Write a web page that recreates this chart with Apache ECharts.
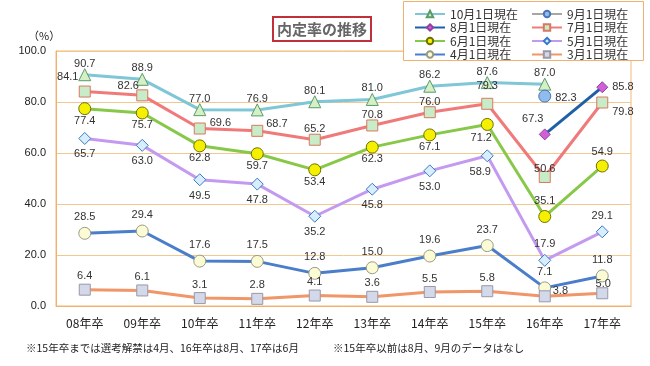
<!DOCTYPE html>
<html><head><meta charset="utf-8">
<script src="https://cdn.jsdelivr.net/npm/echarts@6/dist/echarts.min.js"></script>
<style>html,body{margin:0;padding:0;background:#fff}#c{width:650px;height:366px}</style>
</head><body><div id="c"></div>
<script>
const categories = ['08年卒','09年卒','10年卒','11年卒','12年卒','13年卒','14年卒','15年卒','16年卒','17年卒'];
const yTicks = [0, 20, 40, 60, 80, 100];
const oct1 = [90.7, 88.9, 77.0, 76.9, 80.1, 81.0, 86.2, 87.6, 87.0, null];
const sep1 = [null, null, null, null, null, null, null, null, 82.3, null];
const aug1 = [null, null, null, null, null, null, null, null, 67.3, 85.8];
const jul1 = [84.1, 82.6, 69.6, 68.7, 65.2, 70.8, 76.0, 79.3, 50.6, 79.8];
const jun1 = [77.4, 75.7, 62.8, 59.7, 53.4, 62.3, 67.1, 71.2, 35.1, 54.9];
const may1 = [65.7, 63.0, 49.5, 47.8, 35.2, 45.8, 53.0, 58.9, 17.9, 29.1];
const apr1 = [28.5, 29.4, 17.6, 17.5, 12.8, 15.0, 19.6, 23.7, 7.1, 11.8];
const mar1 = [6.4, 6.1, 3.1, 2.8, 4.1, 3.6, 5.5, 5.8, 3.8, 5.0];
const names = ['10月1日現在','9月1日現在','8月1日現在','7月1日現在','6月1日現在','5月1日現在','4月1日現在','3月1日現在'];
const seriesData = [oct1, sep1, aug1, jul1, jun1, may1, apr1, mar1];

// styles (kept separate from data)
const styles = [
  {line:'#7fc6d6', fill:'#d5f0c5', border:'#5b9a6b', symbol:'triangle', size:12, pos:'top', off:[0,5], over:{}},
  {line:'#a6a6a6', fill:'#8fbcec', border:'#4a74b8', symbol:'circle', size:12, pos:'right', off:[0,2], over:{}},
  {line:'#1f5fa8', fill:'#d060d8', border:'#9040a0', symbol:'diamond', size:11, pos:'right', off:[0,0], over:{8:['top',[-12,0]]}},
  {line:'#f07a7a', fill:'#c8ecc8', border:'#d87860', symbol:'rect', size:11, pos:'top', off:[0,5], over:{0:['top',[-17,1]],1:['top',[-14,6]],2:['right',[0,-6]],3:['right',[-1,-7]],7:['top',[0,-2]],8:['top',[0,7]],9:['right',[0,9]]}},
  {line:'#88c848', fill:'#f5f000', border:'#707000', symbol:'circle', size:12, pos:'bottom', off:[0,-4], over:{7:['bottom',[-6,-2]],8:['top',[0,0]],9:['top',[0,2]]}},
  {line:'#c49af0', fill:'#d8eefc', border:'#3878c8', symbol:'diamond', size:12, pos:'bottom', off:[0,0], over:{7:['bottom',[-7,0]],8:['top',[0,0]],9:['top',[0,0]]}},
  {line:'#4a7ecb', fill:'#fbfbd5', border:'#9a9a80', symbol:'circle', size:12, pos:'top', off:[0,0], over:{}},
  {line:'#f09668', fill:'#d3d9e8', border:'#9898a8', symbol:'rect', size:11, pos:'top', off:[0,2], over:{8:['right',[-2,-5]],9:['top',[1,6]]}}
];

const series = seriesData.map((arr, i) => {
  const s = styles[i];
  return {
    name: names[i], type: 'line', symbol: s.symbol, symbolSize: s.size,
    showAllSymbol: true,
    lineStyle: {color: s.line, width: 3},
    itemStyle: {color: s.fill, borderColor: s.border, borderWidth: 1},
    z: 2 + i,
    data: arr.map((v, j) => {
      if (v === null) return null;
      const o = s.over[j];
      return {value: v, label: {position: o ? o[0] : s.pos, offset: o ? o[1] : s.off}};
    }),
    label: {show: true, fontSize: 11, color: '#333', fontFamily: 'Liberation Sans, Arial, sans-serif', distance: 4,
      formatter: p => p.value.toFixed(1)},
    emphasis: {disabled: true}
  };
});

const chart = echarts.init(document.getElementById('c'), null, {renderer: 'canvas'});
const legendCommon = {orient: 'vertical', itemWidth: 30, itemHeight: 8, itemGap: 1.5, padding: 0,
  textStyle: {fontSize: 12, lineHeight: 12, color: '#333', fontFamily: 'Noto Sans CJK JP'}, selectedMode: false, z: 20};
chart.setOption({
  animation: false,
  textStyle: {fontFamily: 'Noto Sans CJK JP'},
  title: {text: '内定率の推移', left: 273, top: 17, padding: [3, 4, 3, 4],
    borderColor: '#c0303a', borderWidth: 2, backgroundColor: '#fff',
    textStyle: {fontSize: 15, fontWeight: 'bold', color: '#666', fontFamily: 'Noto Sans CJK JP', lineHeight: 18}},
  legend: [
    Object.assign({left: 414, top: 8, data: [names[0], names[2], names[4], names[6]]}, legendCommon),
    Object.assign({left: 531, top: 8, data: [names[1], names[3], names[5], names[7]]}, legendCommon)
  ],
  grid: {left: 56, top: 51, right: 19, height: 255, show: true, borderColor: '#f0b878', borderWidth: 1, backgroundColor: 'transparent'},
  xAxis: {type: 'category', data: categories,
    axisLine: {lineStyle: {color: '#f0b070', width: 1}},
    axisTick: {inside: true, length: 4, lineStyle: {color: '#d0a060'}},
    axisLabel: {fontSize: 12, color: '#222', margin: 11, fontFamily: 'Noto Sans CJK JP'}},
  yAxis: {type: 'value', min: yTicks[0], max: yTicks[yTicks.length-1], interval: 20,
    axisLine: {show: true, lineStyle: {color: '#f0b070'}},
    axisTick: {show: false},
    splitLine: {lineStyle: {color: '#f0c890', width: 1}},
    axisLabel: {fontSize: 11, color: '#222', margin: 10, fontFamily: 'Liberation Sans, Arial, sans-serif',
      formatter: v => v.toFixed(1)}},
  graphic: [
    {type: 'rect', left: 403, top: 1, shape: {width: 240, height: 59}, style: {fill: '#fff', stroke: '#f0b070', lineWidth: 1}, z: 15},
    {type: 'text', left: 28, top: 30, style: {text: '（%）', fontSize: 11, fill: '#222', fontFamily: 'Noto Sans CJK JP'}, z: 15},
    {type: 'text', left: 26, top: 343, style: {text: '※15年卒までは選考解禁は4月、16年卒は8月、17卒は6月', fontSize: 10.5, fill: '#222', fontFamily: 'Noto Sans CJK JP'}, z: 15},
    {type: 'text', left: 333, top: 343, style: {text: '※15年卒以前は8月、9月のデータはなし', fontSize: 10.5, fill: '#222', fontFamily: 'Noto Sans CJK JP'}, z: 15}
  ],
  series: series
});
</script></body></html>
